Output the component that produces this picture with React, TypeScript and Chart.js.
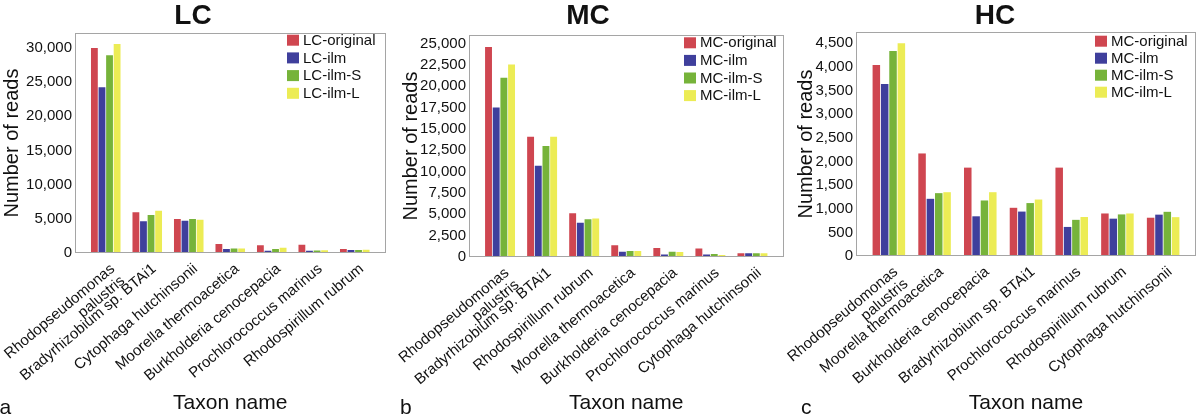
import React, { useEffect, useRef } from 'react';
import { Chart, registerables } from 'chart.js';

Chart.register(...registerables);

const FONT = "'Liberation Sans', Arial, Helvetica, sans-serif";
const seriesColors = ['#cf4650', '#3f3f9c', '#76b33a', '#ecec55'];

// ---- LC ----
const lcCategories = [
  ['Rhodopseudomonas', 'palustris'],
  'Bradyrhizobium sp. BTAi1',
  'Cytophaga hutchinsonii',
  'Moorella thermoacetica',
  'Burkholderia cenocepacia',
  'Prochlorococcus marinus',
  'Rhodospirillum rubrum',
];
const lcLegend = ['LC-original', 'LC-ilm', 'LC-ilm-S', 'LC-ilm-L'];
const lcOriginal = [30000, 5950, 4980, 1300, 1140, 1190, 590];
const lcIlm = [24250, 4640, 4730, 590, 320, 320, 440];
const lcIlmS = [28930, 5560, 4980, 660, 590, 360, 440];
const lcIlmL = [30590, 6190, 4880, 660, 760, 390, 490];
const lcTicks = [0, 5000, 10000, 15000, 20000, 25000, 30000];

// ---- MC ----
const mcCategories = [
  ['Rhodopseudomonas', 'palustris'],
  'Bradyrhizobium sp. BTAi1',
  'Rhodospirillum rubrum',
  'Moorella thermoacetica',
  'Burkholderia cenocepacia',
  'Prochlorococcus marinus',
  'Cytophaga hutchinsonii',
];
const mcLegend = ['MC-original', 'MC-ilm', 'MC-ilm-S', 'MC-ilm-L'];
const mcOriginal = [24600, 14080, 5110, 1380, 1060, 1000, 430];
const mcIlm = [17510, 10690, 4020, 620, 280, 300, 430];
const mcIlmS = [20980, 12990, 4410, 700, 620, 340, 430];
const mcIlmL = [22540, 14080, 4520, 700, 600, 240, 430];
const mcTicks = [0, 2500, 5000, 7500, 10000, 12500, 15000, 17500, 20000, 22500, 25000];

// ---- HC ----
const hcCategories = [
  ['Rhodopseudomonas', 'palustris'],
  'Moorella thermoacetica',
  'Burkholderia cenocepacia',
  'Bradyrhizobium sp. BTAi1',
  'Prochlorococcus marinus',
  'Rhodospirillum rubrum',
  'Cytophaga hutchinsonii',
];
const hcLegend = ['MC-original', 'MC-ilm', 'MC-ilm-S', 'MC-ilm-L'];
const hcOriginal = [4040, 2170, 1870, 1020, 1870, 900, 810];
const hcIlm = [3640, 1210, 840, 940, 615, 790, 875];
const hcIlmS = [4340, 1330, 1175, 1120, 765, 880, 935];
const hcIlmL = [4500, 1350, 1350, 1195, 825, 900, 822];
const hcTicks = [0, 500, 1000, 1500, 2000, 2500, 3000, 3500, 4000, 4500];

const yTitle = 'Number of reads';
const xTitle = 'Taxon name';

type Panel = {
  title: string;
  letter: string;
  categories: any[];
  legend: string[];
  series: number[][];
  ticks: number[];
  yMax: number;
  x0: number;
  padLeft: number;
  width: number;
  innerLeft: number;
  innerRight: number;
  pad: number;
  top: number;
  bottom: number;
  titleX: number;
  letterX: number;
  legendX: number;
  legendY: number;
  legendGap: number;
};

const panels: Panel[] = [
  {
    title: 'LC', letter: 'a', categories: lcCategories, legend: lcLegend,
    series: [lcOriginal, lcIlm, lcIlmS, lcIlmL], ticks: lcTicks, yMax: 32200,
    x0: 0, padLeft: 0, width: 400, innerLeft: 85, innerRight: 375.5, pad: 10, top: 33, bottom: 253,
    titleX: 193, letterX: -0.5, legendX: 287, legendY: 40.7, legendGap: 17.7,
  },
  {
    title: 'MC', letter: 'b', categories: mcCategories, legend: mcLegend,
    series: [mcOriginal, mcIlm, mcIlmS, mcIlmL], ticks: mcTicks, yMax: 26000,
    x0: 385, padLeft: 14, width: 415, innerLeft: 479, innerRight: 773.5, pad: 10, top: 35, bottom: 257,
    titleX: 588, letterX: 400, legendX: 684, legendY: 43.3, legendGap: 17.6,
  },
  {
    title: 'HC', letter: 'c', categories: hcCategories, legend: hcLegend,
    series: [hcOriginal, hcIlm, hcIlmS, hcIlmL], ticks: hcTicks, yMax: 4740,
    x0: 775, padLeft: 19, width: 425, innerLeft: 866, innerRight: 1186, pad: 10, top: 32, bottom: 256,
    titleX: 995, letterX: 801, legendX: 1095, legendY: 41.7, legendGap: 17,
  },
];

function decorPlugin(p: Panel) {
  return {
    id: 'panelDecor' + p.letter,
    afterDatasetsDraw(chart: any) {
      const ctx = chart.ctx as CanvasRenderingContext2D;
      const ca = chart.chartArea;
      ctx.save();
      // plot frame
      ctx.strokeStyle = '#a5a5a5';
      ctx.lineWidth = 1;
      const l = Math.round(ca.left - p.pad) + 0.5;
      const r = Math.round(ca.right + p.pad) - 0.5;
      const t = Math.round(ca.top) + 0.5;
      const b = Math.round(ca.bottom) - 0.5;
      ctx.strokeRect(l, t, r - l, b - t);
      // legend
      ctx.font = `15px ${FONT}`;
      ctx.textBaseline = 'middle';
      ctx.textAlign = 'left';
      p.legend.forEach((name, i) => {
        const cy = p.legendY + i * p.legendGap;
        const bx = p.legendX - p.x0;
        ctx.fillStyle = seriesColors[i];
        ctx.fillRect(bx, cy - 6, 12, 11);
        ctx.fillStyle = '#111';
        ctx.fillText(name, bx + 16, cy);
      });
      ctx.restore();
    },
    afterDraw(chart: any) {
      const ctx = chart.ctx as CanvasRenderingContext2D;
      ctx.save();
      ctx.fillStyle = '#111';
      ctx.font = `bold 28px ${FONT}`;
      ctx.textAlign = 'center';
      ctx.textBaseline = 'middle';
      ctx.fillText(p.title, p.titleX - p.x0, 16);
      ctx.font = `21px ${FONT}`;
      ctx.textAlign = 'left';
      ctx.textBaseline = 'alphabetic';
      ctx.fillText(p.letter, p.letterX - p.x0, 414);
      ctx.restore();
    },
  };
}

function PanelChart({ p }: { p: Panel }) {
  const ref = useRef<HTMLCanvasElement>(null);
  useEffect(() => {
    const canvas = ref.current!;
    const chart = new Chart(canvas, {
      type: 'bar',
      data: {
        labels: p.categories,
        datasets: p.series.map((s, i) => ({
          label: p.legend[i],
          data: s,
          backgroundColor: seriesColors[i],
          borderWidth: 0,
          categoryPercentage: 0.73,
          barPercentage: 0.9,
        })),
      },
      options: {
        responsive: false,
        animation: false,
        devicePixelRatio: 1,
        layout: {
          padding: { left: p.padLeft, right: p.width - (p.innerRight - p.x0), top: p.top, bottom: 0 },
        },
        plugins: {
          legend: { display: false },
          title: { display: false },
          tooltip: { enabled: false },
        },
        scales: {
          x: {
            grid: { display: false, drawTicks: false },
            border: { display: false },
            ticks: {
              autoSkip: false,
              minRotation: 40,
              maxRotation: 40,
              padding: 8,
              labelOffset: 7,
              color: '#111',
              font: { family: FONT, size: 15, lineHeight: 1.05 },
            },
            title: {
              display: true,
              text: xTitle,
              color: '#111',
              font: { family: FONT, size: 21 },
              padding: { top: 0, bottom: 0 },
            },
            afterFit: (s: any) => {
              s.height = 416 - p.bottom;
              s.paddingLeft = 0;
              s.paddingRight = 0;
            },
          },
          y: {
            min: 0,
            max: p.yMax,
            grid: { display: false, drawTicks: false },
            border: { display: false },
            afterBuildTicks: (s: any) => {
              s.ticks = p.ticks.map((v) => ({ value: v }));
            },
            ticks: {
              padding: p.pad + 3,
              color: '#111',
              font: { family: FONT, size: 15 },
              callback: (v: any) => Number(v).toLocaleString('en-US'),
            },
            title: {
              display: true,
              text: yTitle,
              color: '#111',
              font: { family: FONT, size: 20 },
              padding: { top: 0, bottom: 0 },
            },
            afterFit: (s: any) => {
              s.width = p.innerLeft - p.x0 - p.padLeft;
              s.paddingTop = 0;
              s.paddingBottom = 0;
            },
          },
        },
      } as any,
      plugins: [decorPlugin(p)],
    });
    return () => chart.destroy();
  }, [p]);
  return (
    <canvas
      ref={ref}
      width={p.width}
      height={416}
      style={{ position: 'absolute', left: p.x0, top: 0, width: p.width, height: 416 }}
    />
  );
}

export default function App() {
  return (
    <div style={{ position: 'absolute', left: 0, top: 0, width: 1200, height: 416, background: '#fff', overflow: 'hidden' }}>
      {panels.map((p) => (
        <PanelChart key={p.letter} p={p} />
      ))}
    </div>
  );
}
